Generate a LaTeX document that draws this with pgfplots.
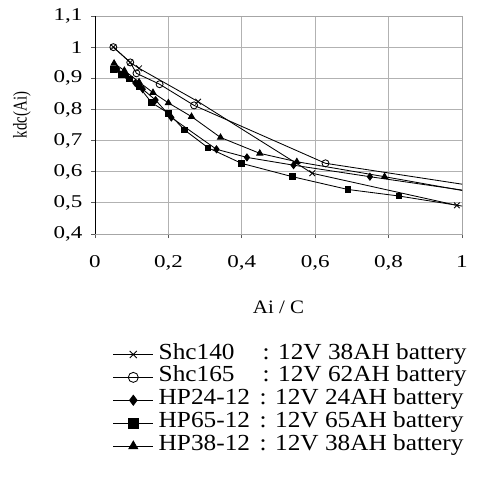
\documentclass[border=0pt]{standalone}
\usepackage{fontspec}
\setmainfont{Liberation Serif}
\newfontfamily\tickfont{Liberation Serif}[FakeStretch=1.28]
\newfontfamily\legfont{Liberation Serif}[FakeStretch=1.1]
\newfontfamily\ylabfont{Liberation Serif}[FakeStretch=0.76]
\usepackage{pgfplots}
\pgfplotsset{compat=1.18}

\begin{document}
\begin{tikzpicture}
\useasboundingbox (0pt,0pt) rectangle (478pt,-489pt);
\begin{axis}[
  at={(95pt,-234pt)}, anchor=south west,
  width=367pt, height=218pt, scale only axis,
  xmin=0, xmax=1, ymin=0.4, ymax=1.1,
  xtick={0,0.2,...,1}, ytick={0.4,0.5,...,1.1},
  /pgf/number format/assume math mode=true,
  /pgf/number format/use comma,
  /pgf/number format/fixed,
  tick label style={font=\tickfont\fontsize{18}{20}\selectfont},
  xticklabel style={yshift=-14pt},
  yticklabel style={xshift=-5pt},
  tick align=outside, tickpos=left,
  major tick length=4pt,
  tick style={gray!70!black, line width=0.8pt},
  axis line style={gray!70, line width=1pt},
  grid=major,
  major grid style={gray!60, line width=0.9pt},
  xlabel={Ai / C}, ylabel={kdc(Ai)},
  xlabel style={font=\legfont\fontsize{19}{21}\selectfont, yshift=-24pt},
  ylabel style={font=\ylabfont\fontsize{19.5}{21}\selectfont,
    at={(axis description cs:-0.199,0.546)}, anchor=center},
  every axis plot/.append style={black, line width=0.85pt, mark size=3.5pt},
  legend style={at={(axis description cs:0.04,-0.49)}, anchor=north west,
    draw=none, fill=none, row sep=0pt, column sep=0pt,
    font=\legfont\fontsize{23}{25}\selectfont,
    nodes={inner xsep=5pt, inner ysep=0pt, text height=16pt, text depth=6.9pt}},
  legend cell align=left,
  legend image code/.code={\draw[mark repeat=2,mark phase=2,#1,mark size=5pt]
    plot coordinates {(0pt,0pt) (20pt,0pt) (40pt,0pt)};},
]
% Shc140
\addplot[mark=x, mark size=4pt, mark options={line width=0.85pt}] coordinates {
  (0.05,1.0) (0.096,0.951) (0.12,0.932) (0.281,0.825) (0.592,0.595) (0.986,0.492)};
\addlegendentry{\makebox[104pt][l]{Shc140}: 12V 38AH battery}
% Shc165
\addplot[mark=o, mark options={line width=0.85pt}] coordinates {
  (0.05,1.0) (0.096,0.951) (0.113,0.916) (0.176,0.881) (0.27,0.813) (0.628,0.627) (1.1,0.542)};
\addlegendentry{\makebox[104pt][l]{Shc165}: 12V 62AH battery}
% HP24-12
\addplot[mark=diamond*] coordinates {
  (0.06,0.93) (0.085,0.91) (0.11,0.885) (0.13,0.865) (0.165,0.83) (0.208,0.774)
  (0.331,0.672) (0.414,0.646) (0.541,0.621) (0.749,0.584) (1.1,0.524)};
\addlegendentry{\makebox[101pt][l]{HP24-12 }: 12V 24AH battery}
% HP65-12
\addplot[mark=square*, mark size=2.8pt] coordinates {
  (0.05,0.929) (0.072,0.913) (0.093,0.898) (0.12,0.873) (0.154,0.822) (0.2,0.788)
  (0.244,0.734) (0.308,0.677) (0.399,0.627) (0.538,0.584) (0.689,0.543) (0.828,0.522) (1.1,0.471)};
\addlegendentry{\makebox[101pt][l]{HP65-12 }: 12V 65AH battery}
% HP38-12
\addplot[mark=triangle*] coordinates {
  (0.052,0.948) (0.08,0.925) (0.12,0.888) (0.158,0.854) (0.2,0.821) (0.263,0.777)
  (0.342,0.71) (0.449,0.659) (0.55,0.632) (0.789,0.584) (1.1,0.519)};
\addlegendentry{\makebox[101pt][l]{HP38-12 }: 12V 38AH battery}
\end{axis}
% the value axis is drawn in black over the grey frame
\draw[black, line width=1pt] (95pt,-234pt) -- (95pt,-16pt);
\end{tikzpicture}
\end{document}
